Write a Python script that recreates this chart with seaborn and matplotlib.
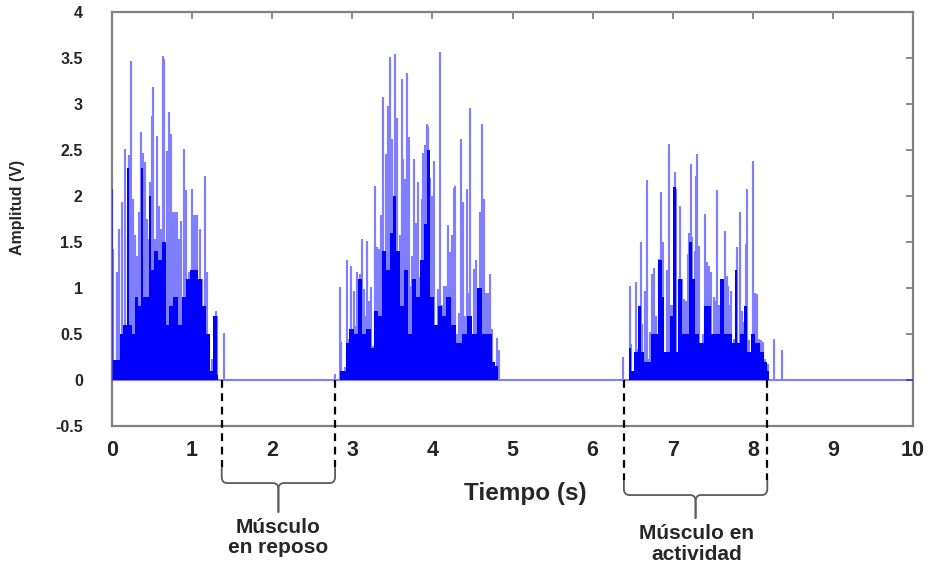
import numpy as np
import pandas as pd
import matplotlib
matplotlib.use("Agg")
import matplotlib.pyplot as plt
import seaborn as sns

# Pics du signal EMG redressé : temps (s) et amplitude (V)
t_rafale1 = [0.005, 0.017, 0.058, 0.092, 0.125, 0.163, 0.2, 0.217, 0.238, 0.267,
             0.292, 0.317, 0.342, 0.367, 0.383, 0.408, 0.433, 0.458, 0.475, 0.496,
             0.508, 0.533, 0.567, 0.592, 0.617, 0.637, 0.65, 0.683, 0.704, 0.717,
             0.733, 0.758, 0.788, 0.808, 0.833, 0.867, 0.9, 0.925, 0.958, 1.0,
             1.025, 1.05, 1.067, 1.1, 1.125, 1.167, 1.192, 1.217, 1.25, 1.3,
             1.317, 1.4]
amp_rafale1 = [2.07, 1.41, 1.16, 1.63, 1.92, 2.5, 1.56, 2.43, 3.46, 1.96,
               1.56, 1.34, 1.81, 2.68, 2.46, 2.36, 1.74, 1.52, 2.14, 2.86,
               3.17, 1.52, 2.64, 1.88, 1.63, 3.51, 3.48, 2.48, 1.67, 2.9,
               2.66, 1.81, 1.82, 1.81, 1.52, 1.72, 2.5, 2.05, 1.16, 2.07,
               1.78, 1.78, 1.78, 1.63, 1.09, 2.21, 1.16, 0.43, 0.22, 0.74,
               0.69, 0.5]

t_rafale2 = [2.79, 2.842, 2.858, 2.913, 2.933, 2.954, 2.983, 3.017, 3.042, 3.058,
             3.083, 3.1, 3.117, 3.142, 3.163, 3.183, 3.208, 3.233, 3.258, 3.283,
             3.308, 3.333, 3.358, 3.383, 3.417, 3.442, 3.458, 3.475, 3.5, 3.533,
             3.558, 3.583, 3.6, 3.617, 3.633, 3.658, 3.683, 3.708, 3.725, 3.75,
             3.775, 3.8, 3.825, 3.842, 3.867, 3.883, 3.908, 3.933, 3.95, 3.975,
             4.0, 4.025, 4.05, 4.075, 4.1, 4.125, 4.15, 4.167, 4.192, 4.217,
             4.242, 4.267, 4.283, 4.308, 4.333, 4.358, 4.383, 4.408, 4.433, 4.45,
             4.475, 4.5, 4.525, 4.55, 4.575, 4.6, 4.617, 4.642, 4.667, 4.692,
             4.717, 4.742, 4.767, 4.8, 4.825]
amp_rafale2 = [0.05, 1.0, 0.4, 0.13, 1.29, 0.43, 1.23, 0.96, 0.58, 1.16,
               0.4, 1.14, 1.52, 0.98, 0.69, 1.5, 0.85, 1.0, 0.36, 2.1,
               1.43, 1.41, 1.78, 3.06, 2.45, 2.97, 1.76, 3.5, 2.61, 3.53,
               2.84, 1.01, 1.56, 3.26, 2.39, 2.17, 3.33, 2.63, 1.01, 1.34,
               2.39, 1.7, 2.14, 1.11, 1.96, 2.46, 2.54, 2.77, 2.75, 2.19,
               1.99, 2.37, 0.27, 0.98, 3.55, 0.8, 1.01, 1.01, 1.67, 1.38,
               1.56, 2.08, 2.1, 0.49, 0.72, 2.61, 1.92, 0.69, 2.07, 0.94,
               2.95, 0.4, 1.2, 1.29, 0.54, 1.81, 2.77, 1.96, 0.94, 0.94,
               1.14, 0.54, 0.11, 0.45, 0.31]

t_rafale3 = [6.383, 6.467, 6.483, 6.542, 6.567, 6.6, 6.617, 6.658, 6.675, 6.7,
             6.717, 6.742, 6.767, 6.792, 6.833, 6.858, 6.883, 6.9, 6.925, 6.95,
             6.975, 7.0, 7.025, 7.042, 7.067, 7.092, 7.117, 7.142, 7.167, 7.192,
             7.208, 7.225, 7.242, 7.275, 7.292, 7.308, 7.333, 7.375, 7.408, 7.433,
             7.458, 7.483, 7.517, 7.533, 7.55, 7.575, 7.6, 7.625, 7.65, 7.675,
             7.692, 7.717, 7.733, 7.767, 7.792, 7.808, 7.833, 7.858, 7.883, 7.908,
             7.925, 7.95, 7.975, 8.0, 8.025, 8.05, 8.075, 8.1, 8.125, 8.15,
             8.167, 8.192, 8.258, 8.358]
amp_rafale3 = [0.24, 1.01, 0.38, 1.05, 0.33, 1.49, 0.6, 0.96, 2.16, 0.22,
               0.51, 1.14, 1.21, 0.69, 1.3, 2.03, 1.49, 0.27, 1.18, 2.55,
               0.8, 0.8, 2.25, 2.07, 0.25, 1.88, 1.09, 0.87, 0.85, 1.36,
               1.59, 2.34, 1.54, 1.39, 2.21, 2.45, 1.45, 0.49, 1.79, 1.27,
               1.23, 1.16, 0.89, 0.85, 2.05, 0.8, 0.56, 0.65, 1.61, 1.12,
               1.01, 0.8, 0.96, 0.43, 1.12, 1.43, 1.81, 0.74, 0.62, 1.47,
               2.07, 0.42, 0.22, 2.37, 0.94, 0.92, 0.43, 0.42, 0.4, 0.22,
               0.14, 0.16, 0.43, 0.31]

# Niveau du fond dense (zone bleue pleine) de chaque rafale
t_fond1 = [0.0, 0.003, 0.02, 0.07, 0.12, 0.16, 0.21, 0.225, 0.27, 0.31, 0.34,
           0.38, 0.4, 0.44, 0.475, 0.5, 0.55, 0.6, 0.64, 0.7, 0.73, 0.8, 0.86,
           0.9, 0.95, 1.0, 1.06, 1.1, 1.15, 1.2, 1.24, 1.29, 1.32, 1.33]
niv_fond1 = [0.0, 1.4, 0.22, 0.22, 0.5, 0.6, 2.3, 0.6, 0.5, 0.9, 0.8,
             2.3, 0.9, 0.9, 2.0, 1.2, 1.4, 1.3, 1.5, 0.6, 0.8, 0.9, 0.6,
             0.9, 1.1, 1.2, 1.2, 1.1, 0.8, 0.5, 0.1, 0.7, 0.05, 0.0]

t_fond2 = [2.84, 2.845, 2.86, 2.91, 2.93, 2.99, 3.05, 3.1, 3.13, 3.2, 3.26,
           3.29, 3.34, 3.39, 3.44, 3.49, 3.53, 3.57, 3.62, 3.67, 3.72, 3.77,
           3.82, 3.87, 3.92, 3.95, 3.99, 4.05, 4.1, 4.15, 4.2, 4.27, 4.33,
           4.4, 4.47, 4.52, 4.6, 4.65, 4.72, 4.76, 4.8, 4.83]
niv_fond2 = [0.0, 0.8, 0.1, 0.1, 0.4, 0.55, 0.5, 1.1, 0.5, 0.55, 0.35,
             0.75, 0.7, 1.4, 1.2, 1.6, 2.0, 1.4, 0.8, 1.2, 0.5, 1.1,
             0.9, 1.3, 1.7, 2.5, 0.9, 0.6, 0.8, 0.7, 0.9, 0.6, 0.4,
             0.5, 0.7, 0.5, 1.0, 0.5, 0.5, 0.2, 0.15, 0.0]

t_fond3 = [6.44, 6.46, 6.5, 6.54, 6.59, 6.62, 6.66, 6.71, 6.74, 6.79, 6.84,
           6.88, 6.9, 6.94, 6.98, 7.02, 7.05, 7.09, 7.13, 7.18, 7.22, 7.26,
           7.3, 7.36, 7.41, 7.45, 7.5, 7.56, 7.62, 7.66, 7.72, 7.77, 7.79,
           7.82, 7.87, 7.91, 7.95, 8.0, 8.06, 8.11, 8.16, 8.19, 8.2]
niv_fond3 = [0.0, 0.35, 0.1, 0.3, 0.8, 0.3, 0.2, 0.2, 0.5, 0.5, 1.3,
             0.9, 0.3, 0.3, 0.7, 2.1, 0.3, 1.1, 0.5, 0.5, 1.5, 1.1,
             0.5, 0.4, 0.8, 0.8, 0.5, 0.5, 1.1, 0.5, 0.5, 0.4, 1.2,
             0.4, 0.5, 0.8, 0.3, 0.5, 0.4, 0.3, 0.2, 0.1, 0.0]

# Zones annotées (début, fin) en s
zone_repos = (1.37, 2.785)
zone_activite = (6.39, 8.18)

t_debut, t_fin = 0.0, 10.0
y_ticks = [-0.5, 0, 0.5, 1, 1.5, 2, 2.5, 3, 3.5, 4]
y_labels = ["-0.5", "0", "0.5", "1", "1.5", "2", "2.5", "3", "3.5", "4"]
x_ticks = list(range(0, 11))


def zigzag(t, a):
    # Chaque pic : aller-retour vertical depuis 0
    t = np.asarray(t, dtype=float)
    a = np.asarray(a, dtype=float)
    x = np.repeat(t, 3)
    y = np.column_stack([np.zeros_like(a), a, np.zeros_like(a)]).ravel()
    return x, y


def accolade(ax, x0, x1, y_haut, y_milieu, y_pointe, rx=0.07, ry=0.07):
    xc = (x0 + x1) / 2
    s = np.linspace(0, 1, 10)

    def coin(p0, p1, p2):
        return ((1 - s) ** 2 * p0[0] + 2 * (1 - s) * s * p1[0] + s ** 2 * p2[0],
                (1 - s) ** 2 * p0[1] + 2 * (1 - s) * s * p1[1] + s ** 2 * p2[1])

    for xa, sens in [(x0, 1), (x1, -1)]:
        c1x, c1y = coin((xa, y_milieu + ry), (xa, y_milieu), (xa + sens * rx, y_milieu))
        c2x, c2y = coin((xc - sens * rx, y_milieu), (xc, y_milieu), (xc, y_milieu - ry))
        px = np.concatenate([[xa], c1x, c2x, [xc]])
        py = np.concatenate([[y_haut], c1y, c2y, [y_pointe]])
        ax.plot(px, py, color="#5a5a5a", lw=1.3, clip_on=False, solid_capstyle="round")


# Construction du signal complet
xs, ys = [np.array([t_debut])], [np.array([0.0])]
for t, a in [(t_rafale1, amp_rafale1), (t_rafale2, amp_rafale2), (t_rafale3, amp_rafale3)]:
    x, y = zigzag(t, a)
    xs.append(x)
    ys.append(y)
xs.append(np.array([t_fin]))
ys.append(np.array([0.0]))
signal = pd.DataFrame({"Tiempo": np.concatenate(xs), "Amplitud": np.concatenate(ys)})

sns.set_style("white")
plt.rcParams['font.family'] = ['Liberation Sans', 'DejaVu Sans']

fig = plt.figure(figsize=(9.37, 5.63), dpi=100)
ax = fig.add_axes([0.1195, 0.2433, 0.855, 0.7354])

# Fond dense des rafales
for t, n in [(t_fond1, niv_fond1), (t_fond2, niv_fond2), (t_fond3, niv_fond3)]:
    ax.fill_between(t, n, 0, step="mid", color="#0000ff", lw=0, zorder=2)

# Signal
sns.lineplot(data=signal, x="Tiempo", y="Amplitud", sort=False, estimator=None,
             color="#0000ff", alpha=0.5, lw=1.5, ax=ax, zorder=3)

ax.set_xlim(t_debut, t_fin)
ax.set_ylim(-0.5, 4)
ax.set_xticks(x_ticks)
ax.set_xticklabels([str(v) for v in x_ticks], fontsize=15.5, fontweight="bold")
ax.set_yticks(y_ticks)
ax.set_yticklabels(y_labels, fontsize=11.5, fontweight="bold")
ax.tick_params(axis="both", direction="in", top=True, right=True, length=5,
               width=1.3, color="#808080")
ax.tick_params(axis="y", pad=21)
ax.tick_params(axis="x", pad=10)
for sp in ax.spines.values():
    sp.set_color("#808080")
    sp.set_linewidth(1.6)

ax.set_xlabel("Tiempo (s)", fontsize=17.5, fontweight="bold")
ax.set_ylabel("Amplitud (V)", fontsize=11.5, fontweight="bold")
ax.xaxis.set_label_coords(0.516, -0.135)
ax.yaxis.set_label_coords(-0.109, 0.527)

# Annotations : traits pointillés + accolades
tirets = (0, (3.5, 2.5))
for (x0, x1), y_haut, y_mil, y_pte in [(zone_repos, -0.95, -1.12, -1.435),
                                       (zone_activite, -1.09, -1.25, -1.5)]:
    for xv in (x0, x1):
        ax.plot([xv, xv], [0, y_haut], color="black", lw=1.6, ls=tirets,
                clip_on=False, zorder=4)
    accolade(ax, x0, x1, y_haut, y_mil, y_pte)

ax.text(sum(zone_repos) / 2, -1.71, "Músculo\nen reposo", ha="center", va="center",
        fontsize=15, fontweight="bold", linespacing=1.1, clip_on=False)
ax.text(sum(zone_activite) / 2 + 0.01, -1.78, "Músculo en\nactividad", ha="center",
        va="center", fontsize=15, fontweight="bold", linespacing=1.1, clip_on=False)

fig.savefig("out.png", dpi=100)
